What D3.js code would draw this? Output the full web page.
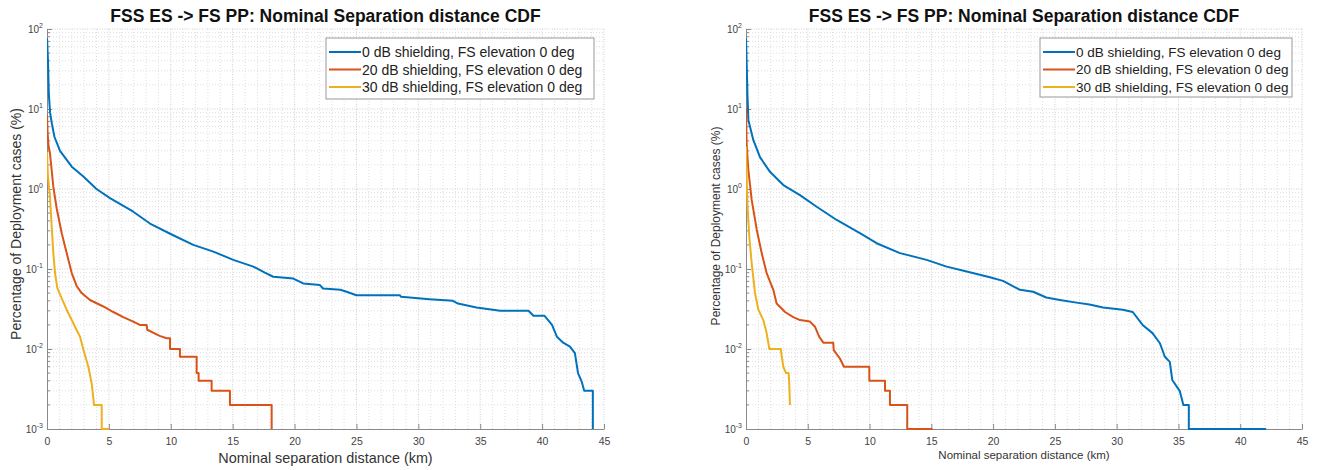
<!DOCTYPE html>
<html>
<head>
<meta charset="utf-8">
<script src="https://cdn.jsdelivr.net/npm/d3@7"></script>
<style>
  body { margin: 0; background: #fff; }
  svg { display: block; font-family: "Liberation Sans", Arial, sans-serif; }
</style>
</head>
<body>
<div id="chart"></div>
<script>
const chartTitle = 'FSS ES -> FS PP: Nominal Separation distance CDF'
const xLabel = 'Nominal separation distance (km)'
const yLabel = 'Percentage of Deployment cases (%)'
const seriesNames = [
  '0 dB shielding, FS elevation 0 deg',
  '20 dB shielding, FS elevation 0 deg',
  '30 dB shielding, FS elevation 0 deg'
]
const seriesColors = ['#0072BD', '#D95319', '#EDB120']
const xTicks = [0, 5, 10, 15, 20, 25, 30, 35, 40, 45]
const yExponents = [-3, -2, -1, 0, 1, 2]

// [distance km, percentage]
const left0dB = [[0,77],[0.08,40],[0.15,15],[0.25,9],[0.4,6.5],[0.6,4.5],[1.05,3.0],[2.0,1.9],[2.94,1.43],[4.0,1.0],[5.09,0.77],[6.97,0.52],[8.32,0.37],[10.07,0.27],[11.82,0.2],[13.44,0.165],[15.05,0.13],[16.67,0.107],[17.6,0.09],[18.28,0.08],[19.9,0.076],[20.7,0.066],[22.05,0.063],[22.3,0.057],[23.7,0.055],[24.2,0.052],[25.0,0.047],[28.5,0.047],[28.6,0.045],[29.3,0.044],[30.9,0.042],[32.8,0.04],[33.2,0.037],[34.7,0.033],[36.6,0.03],[38.9,0.03],[39.3,0.026],[40.2,0.026],[40.8,0.02],[41.2,0.0142],[41.7,0.012],[42.25,0.0107],[42.65,0.0089],[42.9,0.005],[43.2,0.0039],[43.4,0.003],[44.1,0.003],[44.1,0.001]]
const left20dB = [[0,8.4],[0.05,5],[0.12,3.5],[0.24,2.8],[0.51,1.07],[0.78,0.575],[1.19,0.28],[1.59,0.158],[2.0,0.089],[2.4,0.061],[2.8,0.05],[3.47,0.041],[4.55,0.034],[5.36,0.029],[6.16,0.025],[6.97,0.022],[7.5,0.02],[8.05,0.02],[8.1,0.0174],[9.1,0.0146],[9.67,0.0136],[9.94,0.0136],[9.94,0.01],[10.74,0.01],[10.74,0.008],[12.09,0.008],[12.09,0.005],[12.25,0.005],[12.25,0.004],[13.3,0.004],[13.3,0.003],[14.78,0.003],[14.78,0.002],[18.15,0.002],[18.15,0.001]]
const left30dB = [[0,2.9],[0.07,1.5],[0.24,0.8],[0.38,0.34],[0.51,0.158],[0.65,0.089],[0.83,0.058],[1.19,0.043],[1.59,0.031],[2.0,0.023],[2.26,0.019],[2.67,0.0142],[2.94,0.0098],[3.34,0.006],[3.61,0.0037],[3.8,0.002],[4.42,0.002],[4.42,0.001],[5.03,0.001]]

const right0dB = [[0,77],[0.05,40],[0.12,15],[0.19,7.3],[0.59,4.1],[1.13,2.5],[1.94,1.64],[3.02,1.12],[4.37,0.84],[5.72,0.6],[7.34,0.41],[9.22,0.28],[10.57,0.21],[12.46,0.158],[14.62,0.13],[16.24,0.107],[17.86,0.093],[19.74,0.079],[20.8,0.071],[22.17,0.055],[23.24,0.052],[24.3,0.044],[25.4,0.041],[26.75,0.038],[27.8,0.036],[28.9,0.033],[30.5,0.031],[31.3,0.029],[32.1,0.02],[32.9,0.0158],[33.5,0.0118],[33.9,0.008],[34.3,0.0069],[34.5,0.0041],[35.1,0.003],[35.4,0.002],[35.84,0.002],[35.84,0.001],[42.1,0.001]]
const right20dB = [[0,10.3],[0.05,3.7],[0.19,1.73],[0.46,0.73],[0.87,0.31],[1.27,0.158],[1.67,0.089],[2.21,0.055],[2.48,0.037],[3.16,0.029],[3.83,0.025],[4.37,0.023],[5.18,0.022],[5.58,0.019],[5.93,0.0142],[6.26,0.012],[7.06,0.012],[7.1,0.0097],[7.6,0.0076],[7.93,0.006],[9.98,0.006],[9.98,0.004],[11.25,0.004],[11.25,0.003],[11.65,0.003],[11.65,0.002],[13.05,0.002],[13.05,0.001],[15.1,0.001]]
const right30dB = [[0,3.4],[0.05,1.5],[0.11,0.66],[0.27,0.25],[0.46,0.118],[0.73,0.05],[1.0,0.031],[1.4,0.023],[1.67,0.0158],[1.89,0.01],[2.81,0.01],[3.02,0.006],[3.24,0.005],[3.45,0.005],[3.5,0.0037],[3.56,0.002]]

const svg = d3.select('#chart')
  .append('svg')
  .attr('width', 1317)
  .attr('height', 470)

function drawPanel(cfg, series) {
  const g = svg.append('g')

  var x = d3.scaleLinear().domain([0, 45]).range([cfg.left, cfg.right])
  var y = d3.scaleLog().domain([1e-3, 1e2]).range([cfg.bottom, cfg.top])

  // minor grid
  const minorX = d3.range(0, 46).filter(v => v % 5 !== 0)
  const minorY = []
  yExponents.slice(0, -1).forEach(e => {
    for (let k = 2; k < 10; k++) minorY.push(k * Math.pow(10, e))
  })
  g.append('g').selectAll('line').data(minorX).enter().append('line')
    .attr('x1', d => x(d)).attr('x2', d => x(d))
    .attr('y1', cfg.top).attr('y2', cfg.bottom)
    .attr('stroke', '#dedede').attr('stroke-dasharray', '1,2')
  g.append('g').selectAll('line').data(minorY).enter().append('line')
    .attr('x1', cfg.left).attr('x2', cfg.right)
    .attr('y1', d => y(d)).attr('y2', d => y(d))
    .attr('stroke', '#dedede').attr('stroke-dasharray', '1,2')
  // major grid
  g.append('g').selectAll('line').data(xTicks.slice(1)).enter().append('line')
    .attr('x1', d => x(d)).attr('x2', d => x(d))
    .attr('y1', cfg.top).attr('y2', cfg.bottom)
    .attr('stroke', '#cfcfcf').attr('stroke-dasharray', '1,1.5')
  g.append('g').selectAll('line').data(yExponents.slice(1)).enter().append('line')
    .attr('x1', cfg.left).attr('x2', cfg.right)
    .attr('y1', d => y(Math.pow(10, d))).attr('y2', d => y(Math.pow(10, d)))
    .attr('stroke', '#cfcfcf').attr('stroke-dasharray', '1,1.5')

  // axes
  const xAxis = g.append('g')
    .attr('transform', 'translate(0,' + cfg.bottom + ')')
    .call(d3.axisBottom(x).tickValues(xTicks).tickSizeInner(-5).tickSizeOuter(0).tickPadding(9))
  xAxis.select('.domain').attr('stroke', '#8a8a8a')
  xAxis.selectAll('.tick line').attr('stroke', '#8a8a8a')
  xAxis.selectAll('text').attr('fill', '#444').style('font-size', cfg.tickSize + 'px')
    .style('font-family', '"Liberation Sans", Arial, sans-serif')

  const yAxis = g.append('g')
    .attr('transform', 'translate(' + cfg.left + ',0)')
    .call(d3.axisLeft(y).tickValues(yExponents.map(e => Math.pow(10, e))).tickFormat('').tickSizeInner(-5).tickSizeOuter(0))
  yAxis.select('.domain').attr('stroke', '#8a8a8a')
  yAxis.selectAll('.tick line').attr('stroke', '#8a8a8a')
  g.append('g').selectAll('line').data(minorY).enter().append('line')
    .attr('x1', cfg.left).attr('x2', cfg.left + 3)
    .attr('y1', d => y(d)).attr('y2', d => y(d))
    .attr('stroke', '#8a8a8a')

  const yl = g.append('g').selectAll('text').data(yExponents).enter().append('text')
    .attr('x', cfg.left - 4)
    .attr('y', d => y(Math.pow(10, d)) + 4)
    .attr('text-anchor', 'end')
    .attr('fill', '#444')
    .style('font-size', '10px')
  yl.append('tspan').text('10')
  yl.append('tspan').attr('dy', -5).style('font-size', '7px').text(d => d)

  // series
  const clipId = 'clip' + cfg.left
  svg.append('clipPath').attr('id', clipId).append('rect')
    .attr('x', cfg.left).attr('y', cfg.top - 2)
    .attr('width', cfg.right - cfg.left).attr('height', cfg.bottom - cfg.top + 3)
  const line = d3.line().x(d => x(d[0])).y(d => y(d[1]))
  g.append('g').attr('clip-path', 'url(#' + clipId + ')')
    .selectAll('path').data(series).enter().append('path')
    .attr('d', d => line(d))
    .attr('fill', 'none')
    .attr('stroke', (d, i) => seriesColors[i])
    .attr('stroke-width', 2)
    .attr('stroke-linejoin', 'round')

  // title and labels
  g.append('text')
    .attr('x', (cfg.left + cfg.right) / 2).attr('y', 22)
    .attr('text-anchor', 'middle')
    .attr('fill', '#111')
    .style('font-size', '17.5px').style('font-weight', 'bold')
    .text(chartTitle)
  g.append('text')
    .attr('x', (cfg.left + cfg.right) / 2).attr('y', cfg.xLabelY)
    .attr('text-anchor', 'middle')
    .attr('fill', '#333')
    .style('font-size', cfg.xLabelSize + 'px')
    .text(xLabel)
  g.append('text')
    .attr('transform', 'translate(' + cfg.yLabelX + ',' + cfg.yLabelY + ')rotate(-90)')
    .attr('text-anchor', 'middle')
    .attr('fill', '#333')
    .style('font-size', cfg.yLabelSize + 'px')
    .text(yLabel)

  // legend
  const lg = g.append('g').attr('transform', 'translate(' + cfg.legend[0] + ',' + cfg.legend[1] + ')')
  lg.append('rect')
    .attr('width', cfg.legend[2]).attr('height', cfg.legend[3])
    .attr('fill', '#fff').attr('stroke', '#999')
  const rows = lg.selectAll('g.row').data(seriesNames).enter().append('g')
    .attr('transform', (d, i) => 'translate(0,' + (14 + i * 17.5) + ')')
  rows.append('line')
    .attr('x1', 3).attr('x2', 35)
    .attr('stroke', (d, i) => seriesColors[i]).attr('stroke-width', 2)
  rows.append('text')
    .attr('x', 36).attr('y', cfg.legendSize * 0.36)
    .attr('fill', '#222')
    .style('font-size', cfg.legendSize + 'px')
    .text(d => d)
}

drawPanel({
  left: 47, right: 604, top: 29, bottom: 429,
  tickSize: 10.5, xLabelSize: 14.4, xLabelY: 463, yLabelSize: 14, yLabelX: 21, yLabelY: 224,
  legend: [326, 38, 268, 61], legendSize: 14
}, [left0dB, left20dB, left30dB])

drawPanel({
  left: 746, right: 1302, top: 29, bottom: 429,
  tickSize: 10.5, xLabelSize: 11.5, xLabelY: 459, yLabelSize: 12, yLabelX: 720, yLabelY: 226,
  legend: [1040, 38, 252, 59], legendSize: 13.5
}, [right0dB, right20dB, right30dB])
</script>
</body>
</html>
